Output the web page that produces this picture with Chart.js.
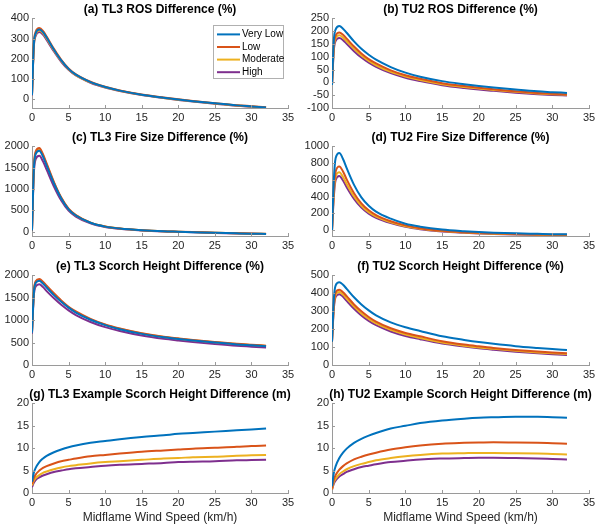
<!DOCTYPE html>
<html>
<head>
<meta charset="utf-8">
<script src="https://cdn.jsdelivr.net/npm/chart.js@4.4.1/dist/chart.umd.min.js"></script>
<style>
body { margin: 0; background: #fff; }
#wrap { position: relative; width: 600px; height: 530px; }
.cell { position: absolute; }
</style>
</head>
<body>
<div id="wrap"></div>
<script>
// midflame wind speed (km/h), shared by all panels
var windSpeed = [0, 0.25, 0.5, 1, 1.5, 2, 3, 4, 5, 6, 8, 10, 12, 15, 18, 20, 22, 25, 28, 30, 32];
var levels = ['Very Low', 'Low', 'Moderate', 'High'];
var xTicks = [0, 5, 10, 15, 20, 25, 30, 35];

// one row per level: Very Low, Low, Moderate, High
var tl3Ros = [
	[20, 270, 325, 345, 332, 305, 245, 192, 150, 121, 84, 60, 42, 22, 7, -2, -10, -21, -31, -36, -41],
	[22, 276, 333, 352, 338, 310, 249, 195, 152, 123, 86, 61, 43, 23, 8, -1, -9, -20, -30, -35, -40],
	[20, 265, 320, 340, 327, 300, 241, 189, 148, 119, 83, 59, 41, 21, 6, -3, -11, -22, -32, -37, -42],
	[18, 258, 313, 333, 320, 293, 236, 185, 145, 117, 81, 57, 40, 20, 5, -4, -12, -23, -33, -38, -43]
];
var tu2Ros = [
	[-10, 165, 207, 220, 210, 194, 160, 131, 108, 89, 60, 38, 22, 5, -7, -14, -20, -28, -35, -38, -41],
	[-10, 145, 183, 195, 186, 171, 140, 113, 91, 74, 47, 28, 14, -3, -14, -21, -27, -35, -41, -44, -47],
	[-10, 135, 172, 184, 175, 161, 131, 105, 84, 67, 41, 23, 9, -7, -18, -24, -30, -37, -43, -46, -48],
	[-10, 126, 162, 173, 165, 151, 122, 97, 77, 61, 36, 18, 5, -11, -22, -28, -33, -40, -46, -49, -51]
];
var tl3FireSize = [
	[30, 1450, 1820, 1900, 1760, 1550, 1130, 780, 525, 380, 210, 120, 75, 35, 10, 0, -10, -25, -38, -46, -52],
	[30, 1500, 1880, 1960, 1815, 1600, 1165, 800, 540, 390, 215, 125, 78, 37, 12, 2, -8, -23, -36, -44, -50],
	[30, 1480, 1850, 1930, 1790, 1575, 1150, 790, 532, 385, 212, 122, 76, 36, 11, 1, -9, -24, -37, -45, -51],
	[25, 1360, 1700, 1780, 1650, 1455, 1060, 730, 495, 355, 195, 110, 68, 30, 6, -4, -13, -28, -41, -49, -55]
];
var tu2FireSize = [
	[-10, 600, 860, 920, 850, 740, 540, 390, 290, 220, 135, 75, 40, 5, -15, -25, -32, -40, -46, -50, -52],
	[-10, 480, 700, 760, 700, 605, 440, 318, 235, 178, 105, 55, 22, -8, -26, -34, -40, -48, -53, -56, -58],
	[-10, 430, 640, 690, 635, 550, 400, 290, 212, 160, 92, 45, 15, -13, -30, -38, -44, -51, -56, -59, -61],
	[-10, 400, 598, 645, 592, 512, 372, 268, 195, 146, 82, 37, 9, -18, -34, -42, -48, -55, -60, -62, -64]
];
var tl3Scorch = [
	[720, 1600, 1830, 1880, 1820, 1730, 1560, 1410, 1280, 1170, 1010, 890, 800, 695, 620, 580, 545, 500, 460, 440, 420],
	[740, 1640, 1870, 1920, 1860, 1770, 1600, 1440, 1300, 1195, 1030, 905, 815, 710, 632, 595, 560, 514, 473, 452, 432],
	[730, 1620, 1850, 1900, 1840, 1750, 1580, 1425, 1290, 1183, 1020, 898, 808, 702, 626, 588, 553, 507, 467, 446, 426],
	[700, 1540, 1750, 1800, 1740, 1650, 1490, 1345, 1220, 1115, 960, 845, 760, 658, 585, 548, 515, 470, 430, 410, 390]
];
var tu2Scorch = [
	[130, 370, 445, 462, 448, 425, 378, 338, 305, 277, 238, 211, 190, 160, 140, 128, 118, 105, 95, 89, 84],
	[130, 335, 405, 420, 406, 384, 338, 300, 268, 242, 205, 179, 160, 133, 114, 104, 95, 84, 75, 70, 66],
	[130, 325, 392, 407, 393, 371, 326, 288, 257, 232, 196, 170, 151, 126, 108, 98, 90, 79, 70, 65, 61],
	[130, 315, 380, 395, 381, 358, 314, 277, 246, 222, 187, 162, 144, 120, 103, 93, 85, 74, 65, 60, 56]
];
var tl3ScorchM = [
	[2.5, 4.5, 5.6, 6.9, 7.7, 8.3, 9.1, 9.7, 10.2, 10.6, 11.2, 11.6, 12.0, 12.5, 12.9, 13.2, 13.4, 13.7, 14.0, 14.2, 14.4],
	[2.0, 3.3, 4.1, 5.0, 5.6, 6.0, 6.6, 7.1, 7.4, 7.7, 8.2, 8.5, 8.8, 9.2, 9.5, 9.7, 9.9, 10.1, 10.3, 10.5, 10.6],
	[1.7, 2.7, 3.3, 4.0, 4.5, 4.8, 5.3, 5.7, 6.0, 6.2, 6.6, 6.9, 7.1, 7.4, 7.7, 7.8, 8.0, 8.1, 8.3, 8.4, 8.5],
	[1.3, 2.3, 2.9, 3.5, 3.9, 4.2, 4.7, 5.0, 5.3, 5.5, 5.8, 6.1, 6.3, 6.5, 6.7, 6.9, 7.0, 7.1, 7.3, 7.35, 7.4]
];
var tu2ScorchM = [
	[1.5, 4.5, 6.0, 7.8, 9.0, 9.9, 11.2, 12.1, 12.8, 13.4, 14.4, 15.0, 15.6, 16.2, 16.6, 16.8, 16.9, 17.0, 17.0, 16.9, 16.8],
	[1.0, 3.0, 4.0, 5.2, 6.0, 6.6, 7.5, 8.1, 8.6, 9.0, 9.7, 10.2, 10.6, 11.0, 11.2, 11.3, 11.35, 11.3, 11.2, 11.1, 11.0],
	[0.8, 2.4, 3.2, 4.2, 4.8, 5.3, 6.0, 6.5, 6.9, 7.3, 7.8, 8.2, 8.5, 8.8, 8.9, 8.95, 8.95, 8.9, 8.8, 8.7, 8.6],
	[0.7, 2.1, 2.8, 3.7, 4.2, 4.7, 5.3, 5.8, 6.1, 6.4, 6.9, 7.2, 7.5, 7.7, 7.8, 7.85, 7.85, 7.8, 7.7, 7.6, 7.5]
];

// y tick labels per panel
var rosTL3Ticks = [0, 100, 200, 300, 400];
var rosTU2Ticks = [-100, -50, 0, 50, 100, 150, 200, 250];
var sizeTL3Ticks = [0, 500, 1000, 1500, 2000];
var sizeTU2Ticks = [0, 200, 400, 600, 800, 1000];
var scorchTL3Ticks = [0, 500, 1000, 1500, 2000];
var scorchTU2Ticks = [0, 100, 200, 300, 400, 500];
var metreTicks = [0, 5, 10, 15, 20];

var colors = ['#0072BD', '#D95319', '#EDB120', '#7E2F8E'];
var axisColor = '#9a9a9a';
var textColor = '#262626';
var fontFamily = '"Liberation Sans", Arial, Helvetica, sans-serif';

var panels = [
	{ title: '(a) TL3 ROS Difference (%)', data: tl3Ros, ticks: rosTL3Ticks, min: -44, max: 400, col: 0, row: 0, legend: true },
	{ title: '(b) TU2 ROS Difference (%)', data: tu2Ros, ticks: rosTU2Ticks, min: -100, max: 250, col: 1, row: 0 },
	{ title: '(c) TL3 Fire Size Difference (%)', data: tl3FireSize, ticks: sizeTL3Ticks, min: -100, max: 2000, col: 0, row: 1 },
	{ title: '(d) TU2 Fire Size Difference (%)', data: tu2FireSize, ticks: sizeTU2Ticks, min: -72, max: 1000, col: 1, row: 1 },
	{ title: '(e) TL3 Scorch Height Difference (%)', data: tl3Scorch, ticks: scorchTL3Ticks, min: 0, max: 2000, col: 0, row: 2 },
	{ title: '(f) TU2 Scorch Height Difference (%)', data: tu2Scorch, ticks: scorchTU2Ticks, min: 0, max: 500, col: 1, row: 2 },
	{ title: '(g) TL3 Example Scorch Height Difference (m)', data: tl3ScorchM, ticks: metreTicks, min: 0, max: 20, col: 0, row: 3 },
	{ title: '(h) TU2 Example Scorch Height Difference (m)', data: tu2ScorchM, ticks: metreTicks, min: 0, max: 20, col: 1, row: 3 }
];

var rowTops = [0, 128, 257, 385];
var rowHeights = [128, 128, 128, 145];

//Small tick marks pointing into the plot, like the original.
var inwardTicks = {
	id: 'inwardTicks',
	afterDatasetsDraw: function(chart) {
		var ctx = chart.ctx, a = chart.chartArea;
		var xs = chart.scales.x, ys = chart.scales.y;
		ctx.save();
		ctx.strokeStyle = axisColor;
		ctx.lineWidth = 1;
		ctx.beginPath();
		xs.ticks.forEach(function(t) {
			var px = Math.round(xs.getPixelForValue(t.value)) + 0.5;
			ctx.moveTo(px, a.bottom);
			ctx.lineTo(px, a.bottom - 3);
		});
		ys.ticks.forEach(function(t) {
			var py = Math.round(ys.getPixelForValue(t.value)) + 0.5;
			ctx.moveTo(a.left, py);
			ctx.lineTo(a.left + 3, py);
		});
		ctx.stroke();
		ctx.restore();
	}
};

//Title centred over the plot area (MATLAB style), not over the canvas.
var areaTitle = {
	id: 'areaTitle',
	afterDraw: function(chart, args, opts) {
		var ctx = chart.ctx, a = chart.chartArea;
		ctx.save();
		ctx.font = 'bold 12px ' + fontFamily;
		ctx.fillStyle = '#000';
		ctx.textAlign = 'center';
		ctx.textBaseline = 'middle';
		ctx.fillText(opts.text, (a.left + a.right) / 2, a.top - 8.5);
		ctx.restore();
	}
};

//Legend box drawn inside the plot area (top right).
var boxLegend = {
	id: 'boxLegend',
	afterDraw: function(chart, args, opts) {
		if (!opts.show) return;
		var ctx = chart.ctx, a = chart.chartArea;
		var w = 70, h = 53;
		var x0 = a.right - 5 - w, y0 = a.top + 7;
		ctx.save();
		ctx.fillStyle = '#fff';
		ctx.fillRect(x0, y0, w, h);
		ctx.strokeStyle = '#b0b0b0';
		ctx.lineWidth = 1;
		ctx.strokeRect(Math.round(x0) + 0.5, Math.round(y0) + 0.5, w, h);
		ctx.font = '10px ' + fontFamily;
		ctx.textBaseline = 'middle';
		chart.data.datasets.forEach(function(ds, i) {
			var y = y0 + 9 + i * 12.6;
			ctx.strokeStyle = ds.borderColor;
			ctx.lineWidth = 2;
			ctx.beginPath();
			ctx.moveTo(x0 + 4, y);
			ctx.lineTo(x0 + 27, y);
			ctx.stroke();
			ctx.fillStyle = '#000';
			ctx.fillText(ds.label, x0 + 29, y);
		});
		ctx.restore();
	}
};

var wrap = document.getElementById('wrap');

for (var p = 0; p < panels.length; ++p) {
	var panel = panels[p];
	var div = document.createElement('div');
	div.className = 'cell';
	div.style.left = (panel.col * 300) + 'px';
	div.style.top = rowTops[panel.row] + 'px';
	div.style.width = '300px';
	div.style.height = rowHeights[panel.row] + 'px';
	var canvas = document.createElement('canvas');
	div.appendChild(canvas);
	wrap.appendChild(div);

	var lastRow = panel.row === 3;
	var datasets = [];
	for (var s = 0; s < levels.length; ++s) {
		datasets.push({
			label: levels[s],
			data: windSpeed.map(function(x, k) { return { x: x, y: this[k] }; }, panel.data[s]),
			borderColor: colors[s],
			backgroundColor: colors[s],
			borderWidth: 2,
			pointRadius: 0,
			cubicInterpolationMode: 'monotone',
			fill: false
		});
	}

	new Chart(canvas, {
		type: 'line',
		data: { datasets: datasets },
		plugins: [inwardTicks, boxLegend, areaTitle],
		options: {
			responsive: true,
			maintainAspectRatio: false,
			animation: false,
			layout: { padding: { left: 0, right: panel.col === 0 ? 12 : 11, top: 18.4, bottom: 0 } },
			plugins: {
				legend: { display: false },
				tooltip: { enabled: false },
				title: { display: false },
				boxLegend: { show: !!panel.legend },
				areaTitle: { text: panel.title }
			},
			scales: {
				x: {
					type: 'linear',
					min: 0,
					max: 35,
					afterBuildTicks: function(scale) {
						scale.ticks = xTicks.map(function(v) { return { value: v }; });
					},
					grid: { display: false, drawTicks: false },
					border: { display: true, color: axisColor, width: 1 },
					ticks: {
						color: textColor, padding: 3, maxRotation: 0, autoSkip: false,
						font: { family: fontFamily, size: 11 },
						callback: function(v) { return String(v); }
					},
					title: {
						display: lastRow,
						text: 'Midflame Wind Speed (km/h)',
						color: textColor,
						font: { family: fontFamily, size: 12 },
						padding: { top: 0, bottom: 5 }
					},
					afterFit: (function(h) { return function(scale) { scale.height = h; }; })(lastRow ? 37 : 20)
				},
				y: {
					type: 'linear',
					min: panel.min,
					max: panel.max,
					afterBuildTicks: (function(list) {
						return function(scale) {
							scale.ticks = list.map(function(v) { return { value: v }; });
						};
					})(panel.ticks),
					grid: { display: false, drawTicks: false },
					border: { display: true, color: axisColor, width: 1 },
					ticks: {
						color: textColor,
						padding: 3,
						autoSkip: false,
						font: { family: fontFamily, size: 11 },
						callback: function(v) { return String(v); }
					},
					afterFit: function(scale) { scale.width = 32; }
				}
			}
		}
	});
}
</script>
</body>
</html>
